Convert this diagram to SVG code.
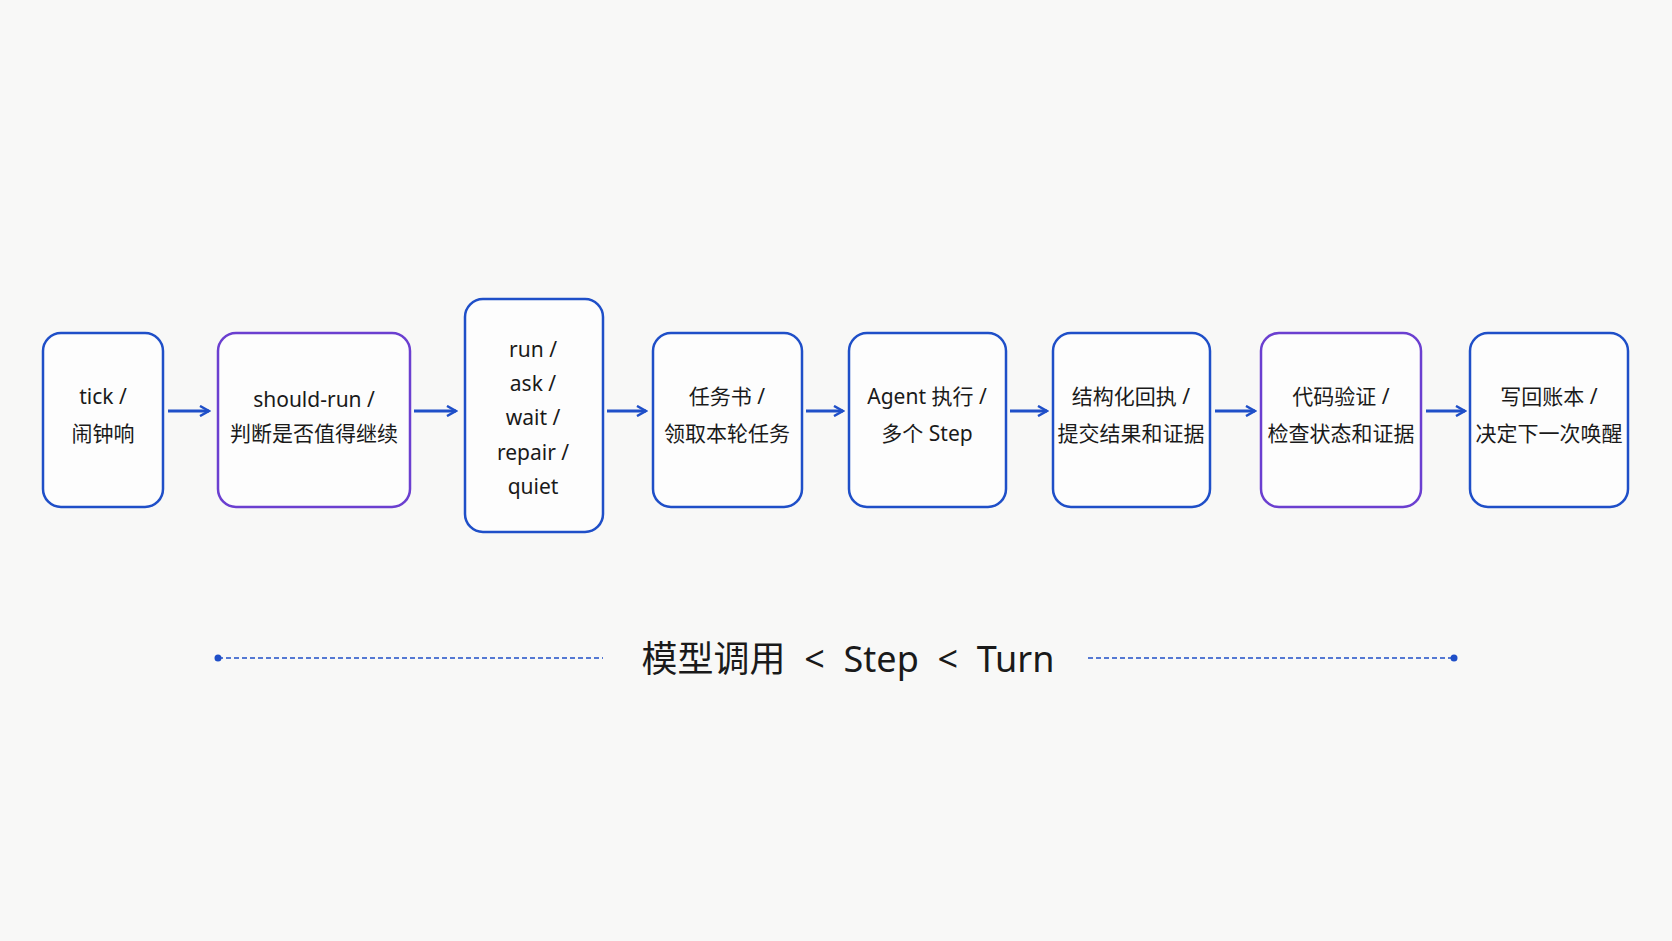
<svg xmlns="http://www.w3.org/2000/svg" width="1672" height="941" viewBox="0 0 1672 941">
<defs>
<style>
.b{fill:#fdfdfd;stroke:#1f4fc8;stroke-width:2.5}
.p{fill:#fdfdfd;stroke:#6b3fd0;stroke-width:2.5}
text{font-family:"Noto Sans","Noto Sans CJK SC",sans-serif;font-size:21px;fill:#1a1a1a;text-anchor:middle}
.c line{stroke:#1f4fc8;stroke-width:3}
.d{stroke:#1f4fc8;stroke-width:1.6;stroke-dasharray:5 3}
</style>
<marker id="a" viewBox="0 0 12 12" refX="10" refY="6" markerWidth="12" markerHeight="12" markerUnits="userSpaceOnUse" orient="auto"><path d="M1 1L10 6L1 11" fill="none" stroke="#1f4fc8" stroke-width="2.5"/></marker>
</defs>
<rect width="1672" height="941" fill="#f8f8f7"/>
<g id="n1"><rect class="b" x="43" y="333" width="120" height="174" rx="18"/><text x="103" y="404">tick /</text><text x="103" y="441">闹钟响</text></g>
<g id="n2"><rect class="p" x="218" y="333" width="192" height="174" rx="18"/><text x="314" y="407">should-run /</text><text x="314" y="441">判断是否值得继续</text></g>
<g id="n3"><rect class="b" x="465" y="299" width="138" height="233" rx="18"/><text x="533" y="357">run /</text><text x="533" y="391">ask /</text><text x="533" y="425">wait /</text><text x="533" y="460">repair /</text><text x="533" y="494">quiet</text></g>
<g id="n4"><rect class="b" x="653" y="333" width="149" height="174" rx="18"/><text x="727" y="404">任务书 /</text><text x="727" y="441">领取本轮任务</text></g>
<g id="n5"><rect class="b" x="849" y="333" width="157" height="174" rx="18"/><text x="927" y="404">Agent 执行 /</text><text x="927" y="441">多个 Step</text></g>
<g id="n6"><rect class="b" x="1053" y="333" width="157" height="174" rx="18"/><text x="1131" y="404">结构化回执 /</text><text x="1131" y="441">提交结果和证据</text></g>
<g id="n7"><rect class="p" x="1261" y="333" width="160" height="174" rx="18"/><text x="1341" y="404">代码验证 /</text><text x="1341" y="441">检查状态和证据</text></g>
<g id="n8"><rect class="b" x="1470" y="333" width="158" height="174" rx="18"/><text x="1549" y="404">写回账本 /</text><text x="1549" y="441">决定下一次唤醒</text></g>
<g class="c">
<line x1="168" y1="411" x2="209" y2="411" marker-end="url(#a)"/>
<line x1="414" y1="411" x2="456" y2="411" marker-end="url(#a)"/>
<line x1="607" y1="411" x2="646" y2="411" marker-end="url(#a)"/>
<line x1="806" y1="411" x2="843" y2="411" marker-end="url(#a)"/>
<line x1="1010" y1="411" x2="1047" y2="411" marker-end="url(#a)"/>
<line x1="1215" y1="411" x2="1255" y2="411" marker-end="url(#a)"/>
<line x1="1426" y1="411" x2="1465" y2="411" marker-end="url(#a)"/>
</g>
<g id="legend">
<line class="d" x1="218" y1="658" x2="603" y2="658"/><circle cx="218" cy="658" r="3.5" fill="#1f4fc8"/>
<line class="d" x1="1088" y1="658" x2="1454" y2="658"/><circle cx="1454" cy="658" r="3.5" fill="#1f4fc8"/>
<text x="848" y="672" style="font-size:36px" xml:space="preserve">模型调用  &lt;  Step  &lt;  Turn</text>
</g>
</svg>
